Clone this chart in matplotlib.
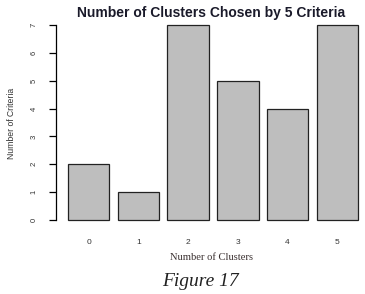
import matplotlib
matplotlib.use("Agg")
import matplotlib.pyplot as plt

categories = ["0", "1", "2", "3", "4", "5"]
counts = [2, 1, 7, 5, 4, 7]
yticks = [0, 1, 2, 3, 4, 5, 6, 7]

W, H = 365, 294
fig = plt.figure(figsize=(W / 100, H / 100), dpi=100)

ppu_y = 195 / 7.0
ylo, yhi = -0.1, 7.1
bot_px = 220 + 0.1 * ppu_y
top_px = 25 - 0.1 * ppu_y
left_px = 56
ax = fig.add_axes([left_px / W, 1 - bot_px / H, (W - left_px) / W, (bot_px - top_px) / H])

ppu_x = 290 / 7.0
xlo = 0.2 - (68 - left_px) / ppu_x
xhi = 7.2 + (W - 358) / ppu_x
ax.set_xlim(xlo, xhi)
ax.set_ylim(ylo, yhi)

lefts = [0.2 + 1.2 * i for i in range(len(categories))]
centers = [l + 0.5 for l in lefts]
ax.bar(centers, counts, width=1.0, color="#bebebe", edgecolor="#222222", linewidth=0.9)

for s in ["top", "right", "bottom"]:
    ax.spines[s].set_visible(False)
ax.spines["left"].set_bounds(0, 7)
ax.spines["left"].set_linewidth(0.9)
ax.set_yticks(yticks)
ax.set_yticklabels([str(t) for t in yticks], rotation=90, va="center",
                   fontsize=5.5, family="Liberation Sans", color="#333333")
ax.tick_params(axis="y", length=5, width=0.9, pad=8)
ax.set_xticks(centers)
ax.set_xticklabels(categories, fontsize=6, family="Liberation Sans", color="#333333")
ax.tick_params(axis="x", length=0, pad=12)

fig.text(211 / W, 1 - 13 / H, "Number of Clusters Chosen by 5 Criteria",
         ha="center", va="center", fontsize=10, fontweight="bold", family="Liberation Sans",
         color="#1a1a2a")
fig.text(12 / W, 1 - 123 / H, "Number of Criteria", rotation=90, ha="center", va="center",
         fontsize=6.2, family="Liberation Sans", color="#333333")
fig.text(212 / W, 1 - 258 / H, "Number of Clusters", ha="center", va="center",
         fontsize=7.6, family="Liberation Serif", color="#3a3030")
fig.text(200 / W, 1 - 281 / H, "Figure 17", ha="center", va="center",
         fontsize=14, style="italic", family="Liberation Serif", color="#222222")

fig.savefig("out.png", dpi=100)
